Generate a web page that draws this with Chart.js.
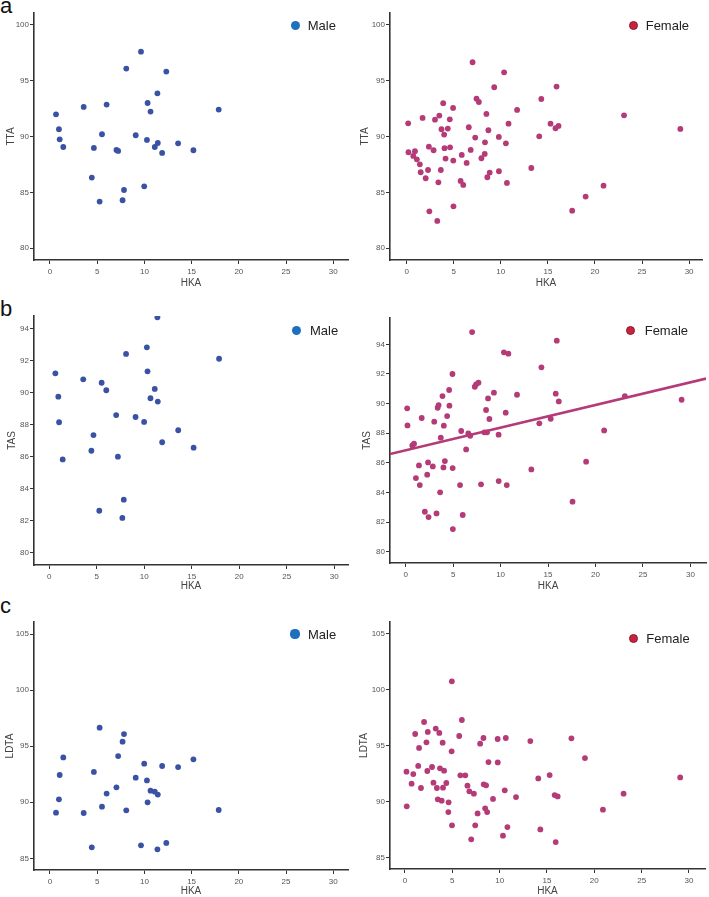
<!DOCTYPE html>
<html><head><meta charset="utf-8">
<script src="https://cdn.jsdelivr.net/npm/chart.js@4.4.1/dist/chart.umd.min.js"></script>
<style>
html,body{margin:0;padding:0;background:#fff;}
body{width:709px;height:897px;position:relative;overflow:hidden;font-family:'Liberation Sans',Arial,sans-serif;}
canvas{position:absolute;}
.letter{position:absolute;font-size:22px;line-height:22px;color:#111;}
.leg{position:absolute;font-size:13px;line-height:15px;color:#222;white-space:nowrap;}
.dot{position:absolute;border-radius:50%;box-sizing:border-box;}
</style></head><body>
<div class="letter" style="left:0px;top:-5px;">a</div>
<div class="letter" style="left:0px;top:298px;">b</div>
<div class="letter" style="left:0px;top:595px;">c</div>
<script>
// ---- data ----
const maleHKA  = [0.64,0.95,1.03,1.41,3.57,4.43,4.65,5.26,5.51,6.00,7.04,7.22,7.69,7.84,8.08,9.08,9.64,9.98,10.27,10.34,10.65,11.10,11.42,11.38,11.88,12.32,13.57,15.19,17.87];
const maleTTA  = [92.0,90.66,89.76,89.07,92.66,86.33,88.99,84.18,90.21,92.87,88.81,88.72,84.30,85.22,96.09,90.12,97.61,85.55,89.70,93.01,92.24,89.07,89.43,93.88,88.54,95.82,89.40,88.78,92.42];
const maleTAS  = [91.19,89.73,88.13,85.81,90.81,86.35,87.33,82.60,90.60,90.13,88.58,85.98,82.15,83.29,92.40,88.46,null,88.15,92.81,91.31,89.63,90.21,89.42,94.69,86.88,null,87.63,86.54,92.10];
const maleLDTA = [89.07,90.26,92.43,94.0,89.04,85.98,92.70,96.65,89.61,90.77,91.33,94.12,95.40,96.08,89.28,92.19,86.16,93.44,91.95,89.99,91.03,90.94,90.68,85.80,93.23,86.37,93.14,93.83,89.31];

const femaleHKA = [0.16,0.19,0.70,0.88,1.08,1.40,1.49,1.69,2.02,2.27,2.36,2.41,2.86,3.01,3.25,3.37,3.47,3.63,3.70,3.88,3.98,4.02,4.13,4.37,4.58,4.61,4.93,4.95,4.97,5.73,5.85,6.01,6.37,6.60,6.80,7.00,7.28,7.42,7.67,7.94,8.29,8.32,8.47,8.57,8.68,8.82,9.30,9.79,9.80,10.35,10.54,10.65,10.82,11.73,13.24,14.08,14.30,15.28,15.81,15.92,16.13,17.58,19.01,20.91,23.09,29.07];
const femaleTTA = [91.19,88.60,88.27,88.69,87.97,87.52,86.81,91.67,86.27,87.01,89.10,83.31,88.78,91.52,82.45,85.91,91.88,87.01,90.66,92.99,90.18,88.96,88.03,90.72,91.55,89.04,92.57,87.85,83.76,86.03,88.36,85.67,87.64,90.84,88.81,96.66,89.91,93.40,93.10,88.06,88.45,89.49,92.03,86.36,90.57,86.78,94.42,89.97,86.90,95.76,89.40,85.85,91.16,92.39,87.19,90.03,93.37,91.16,90.75,94.48,90.96,83.37,84.63,85.61,91.91,90.69];
const femaleTAS = [89.68,88.53,87.18,87.29,84.97,85.83,84.50,89.03,82.70,85.20,86.03,82.34,85.76,88.78,82.59,89.72,89.90,84.01,87.70,90.51,85.69,88.51,86.12,89.16,90.92,89.86,92.0,85.65,81.53,84.50,88.15,82.48,86.91,87.99,87.83,94.83,91.14,91.30,91.41,84.55,88.06,null,89.57,88.06,90.35,88.96,90.74,87.90,84.77,93.46,89.39,84.50,93.37,90.60,85.56,88.67,92.45,88.98,90.67,94.25,90.15,83.38,86.08,88.19,90.51,90.26];
const femaleLDTA = [92.69,89.59,91.62,92.48,96.06,93.20,94.81,91.23,97.13,95.31,92.75,96.24,93.11,91.71,96.54,91.23,90.22,96.15,92.99,90.10,95.28,91.26,92.78,91.68,89.08,89.95,94.51,100.77,87.89,95.88,92.36,97.31,92.36,91.44,90.93,86.64,90.72,87.89,88.96,95.19,95.70,91.56,89.41,91.47,89.08,93.55,90.25,95.61,93.52,86.97,91.02,95.70,87.74,90.42,95.43,92.09,87.53,92.39,90.60,86.40,90.48,95.67,93.91,89.29,90.72,92.18];

// fitted line for female TAS vs HKA
const femaleTASFit = {intercept: 86.85, slope: 0.153};

const xTitle = 'HKA';
const xTickStep = 5;

// ---- styling ----
const MALE_PT = 'rgb(58,82,163)';
const FEMALE_PT = 'rgb(180,58,120)';
const FONT = "'Liberation Sans', Arial, sans-serif";

// ---- panel layout ----
const panels = [
 {canvas:[0,0,354,289],   area:[34,348,13,260],  x:[-1.69,31.56], y:[78.95,101.07], yStep:5, yTitle:'TTA',  yTitleCx:10.8, xs:maleHKA,   ys:maleTTA,   color:MALE_PT,   legend:{cx:295.5,cy:25.5,tx:307.7,label:'Male'}},
 {canvas:[354,0,355,289], area:[390,702,13,260], x:[-1.77,31.37], y:[78.95,101.07], yStep:5, yTitle:'TTA',  yTitleCx:365.7, xs:femaleHKA, ys:femaleTTA, color:FEMALE_PT, legend:{cx:633.3,cy:25.7,tx:645.7,label:'Female'}},
 {canvas:[0,295,354,297], area:[34,348,316,565], x:[-1.61,31.44], y:[79.21,94.77], yStep:2, yTitle:'TAS',  yTitleCx:12, xs:maleHKA,   ys:maleTAS,   color:MALE_PT,   legend:{cx:296.7,cy:330.7,tx:310,label:'Male'}},
 {canvas:[354,295,355,297], area:[390,707,318,563], x:[-1.65,31.65], y:[79.24,95.78], yStep:2, yTitle:'TAS', yTitleCx:367.7, xs:femaleHKA, ys:femaleTAS, color:FEMALE_PT, fit:femaleTASFit, legend:{cx:630.7,cy:330.7,tx:644.7,label:'Female'}},
 {canvas:[0,600,354,297], area:[34,348,622,870], x:[-1.69,31.56], y:[83.96,106.07], yStep:5, yTitle:'LDTA', yTitleCx:10.7, xs:maleHKA,   ys:maleLDTA,  color:MALE_PT,   legend:{cx:295,cy:634,tx:308,label:'Male'}},
 {canvas:[354,600,355,297], area:[390,705,622,869], x:[-1.58,31.69], y:[83.99,106.07], yStep:5, yTitle:'LDTA', yTitleCx:364.3, xs:femaleHKA, ys:femaleLDTA, color:FEMALE_PT, legend:{cx:633.3,cy:638.3,tx:646.3,label:'Female'}}
];

function addLegend(lg){
  const d = document.createElement('div');
  d.className = 'dot';
  const r = 4.6;
  d.style.left = (lg.cx - r) + 'px'; d.style.top = (lg.cy - r) + 'px';
  d.style.width = (2*r) + 'px'; d.style.height = (2*r) + 'px';
  if (lg.label === 'Male') { d.style.background = '#1f6fbf'; }
  else { d.style.background = '#c8223c'; d.style.border = '1.2px solid #8e1a2c'; }
  document.body.appendChild(d);
  const t = document.createElement('div');
  t.className = 'leg';
  t.textContent = lg.label;
  t.style.left = lg.tx + 'px'; t.style.top = (lg.cy - 7.5) + 'px';
  document.body.appendChild(t);
}

panels.forEach(p => {
  const [cl, ct, cw, ch] = p.canvas;
  const [al, ar, at, ab] = p.area;
  const cv = document.createElement('canvas');
  cv.width = cw; cv.height = ch;
  cv.style.left = cl + 'px'; cv.style.top = ct + 'px';
  cv.style.width = cw + 'px'; cv.style.height = ch + 'px';
  document.body.appendChild(cv);

  const pts = [];
  p.xs.forEach((x, i) => { if (p.ys[i] !== null && p.ys[i] !== undefined) pts.push({x: x, y: p.ys[i]}); });

  const datasets = [];
  if (p.fit) {
    datasets.push({
      type: 'line',
      data: [p.x[0], p.x[1]].map(x => ({x: x, y: p.fit.intercept + p.fit.slope * x})),
      borderColor: p.color, borderWidth: 2.6, pointRadius: 0, fill: false, tension: 0
    });
  }
  datasets.push({
    type: 'scatter',
    data: pts,
    backgroundColor: p.color, borderColor: p.color, borderWidth: 0,
    pointRadius: 2.9, pointHoverRadius: 2.9
  });

  const axisCommon = {
    grid: {display: true, drawOnChartArea: false, drawTicks: true, tickLength: 4, color: '#333', lineWidth: 1},
    border: {display: true, color: '#333', width: 1.6},
  };

  new Chart(cv, {
    data: {datasets},
    options: {
      responsive: false, animation: false, devicePixelRatio: 1,
      layout: {padding: {left: 0, top: at - ct, right: (cl + cw) - ar, bottom: 0}},
      plugins: {legend: {display: false}, tooltip: {enabled: false}},
      scales: {
        x: Object.assign({}, axisCommon, {
          type: 'linear', position: 'bottom', min: p.x[0], max: p.x[1],
          ticks: {stepSize: xTickStep, includeBounds: false, padding: 2.5, color: '#555', font: {family: FONT, size: 8}},
          title: {display: true, text: xTitle, color: '#444', padding: 0, font: {family: FONT, size: 10}},
          afterFit: s => { s.height = (ct + ch) - ab; }
        }),
        y: Object.assign({}, axisCommon, {
          type: 'linear', position: 'left', min: p.y[0], max: p.y[1],
          ticks: {stepSize: p.yStep, includeBounds: false, padding: 1, color: '#555', font: {family: FONT, size: 8}},
          title: {display: true, text: p.yTitle, color: '#444', padding: {top: p.yTitleCx - cl - 6, bottom: 0}, font: {family: FONT, size: 10}},
          afterFit: s => { s.width = al - cl; }
        })
      }
    }
  });
  addLegend(p.legend);
});
</script>
</body></html>
